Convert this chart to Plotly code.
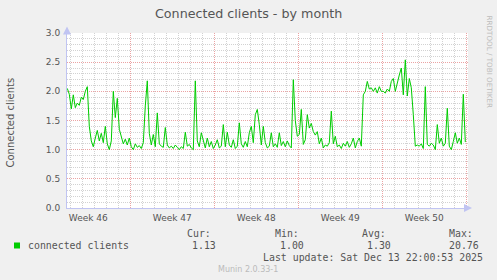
import plotly.graph_objects as go
import pandas as pd

# ---------------- data ----------------
title = "Connected clients - by month"
y_title = "Connected clients"
series_name = "connected clients"
sample_start = "2025-11-10 18:00"
sample_step = "4h"
clients = [
    2.05, 1.95, 1.70, 1.94, 1.72, 1.80, 1.76, 1.90, 1.86, 2.00,
    2.08, 1.40, 1.15, 1.05, 1.20, 1.33, 1.15, 1.28, 1.12, 1.40,
    1.10, 1.00, 1.15, 2.00, 1.55, 1.88, 1.35, 1.20, 1.10, 1.18,
    1.08, 1.20, 1.05, 1.00, 1.10, 1.04, 1.07, 1.02, 1.12, 1.75,
    2.18, 1.28, 1.08, 1.26, 1.05, 1.63, 1.10, 1.06, 1.04, 1.38,
    1.08, 1.03, 1.06, 1.02, 1.08, 1.04, 1.00, 1.05, 1.02, 1.30,
    1.06, 1.09, 1.03, 1.00, 2.18, 1.15, 1.05, 1.29, 1.18, 1.03,
    1.20, 1.05, 1.14, 1.02, 1.08, 1.17, 1.03, 1.06, 1.43, 1.05,
    1.30, 1.08, 1.04, 1.17, 1.02, 1.06, 1.46, 1.10, 1.04, 1.14,
    1.05, 1.29, 1.40, 1.12, 1.60, 1.69, 1.43, 1.08, 1.40, 1.12,
    1.03, 1.06, 1.29, 1.05, 1.10, 1.04, 1.29, 1.07, 1.14, 1.05,
    1.15, 1.07, 1.03, 2.20, 1.50, 1.23, 1.26, 1.69, 1.09, 1.17,
    1.60, 1.37, 1.45, 1.31, 1.25, 1.31, 1.10, 1.20, 1.03, 1.08,
    1.06, 1.12, 1.66, 1.10, 1.23, 1.05, 1.08, 1.02, 1.11, 1.06,
    1.14, 1.04, 1.10, 1.20, 1.03, 1.14, 1.20, 1.06, 1.94, 2.00,
    2.17, 2.04, 2.06, 2.00, 2.06, 1.97, 2.08, 2.00, 2.00, 1.97,
    2.04, 2.00, 2.17, 2.22, 2.00, 2.17, 2.28, 2.40, 1.94, 2.54,
    1.92, 2.22, 2.06, 1.60, 1.06, 1.08, 1.06, 1.10, 1.02, 2.08,
    1.09, 1.06, 1.11, 1.08, 1.00, 1.43, 1.11, 1.20, 1.06, 1.11,
    1.71, 1.06, 1.00, 1.14, 1.29, 1.11, 1.20, 1.09, 1.95, 1.13,
]
week_labels = ["Week 46", "Week 47", "Week 48", "Week 49", "Week 50"]
week_label_times = ["2025-11-12 12:00", "2025-11-19 12:00", "2025-11-26 12:00",
                    "2025-12-03 12:00", "2025-12-10 12:00"]
week_grid_origin = "2025-11-16"
x_range = ["2025-11-10 17:24", "2025-12-14 03:24"]
y_range = [0, 3]
y_ticks = [0.0, 0.5, 1.0, 1.5, 2.0, 2.5, 3.0]
stat_names = ["Cur:", "Min:", "Avg:", "Max:"]
stat_values = ["1.13", "1.00", "1.30", "20.76"]
last_update = "Last update: Sat Dec 13 22:00:53 2025"
footer = "Munin 2.0.33-1"
watermark = "RRDTOOL / TOBI OETIKER"

# ---------------- style ----------------
W, H = 497, 280
L, R, T, B = 67, 29, 33, 72
PW, PH = W - L - R, H - T - B
BG = "#F0F0F0"
TXT = "#555555"
GREEN = "#00CC00"
MINOR = "#D2D2D2"
MAJOR = "#EBA3A3"
AXIS = "#C0C4F2"
SANS = "DejaVu Sans"
MONO = "DejaVu Sans Mono"
DAY_MS = 86400000


def px_x(px):
    return (px - L) / PW


def px_y(py):
    return (T + PH - py) / PH


times = pd.date_range(sample_start, periods=len(clients), freq=sample_step)

fig = go.Figure()
fig.add_trace(go.Scatter(x=times, y=clients, mode="lines",
                         line=dict(color=GREEN, width=1),
                         name=series_name, showlegend=False, hoverinfo="skip"))
fig.add_trace(go.Scatter(x=[times[0]], y=[None], xaxis="x2", yaxis="y",
                         mode="lines", showlegend=False, hoverinfo="skip"))

fig.update_layout(
    width=W, height=H,
    margin=dict(l=L, r=R, t=T, b=B, pad=0),
    paper_bgcolor=BG, plot_bgcolor="#FFFFFF",
    showlegend=False,
    xaxis=dict(type="date", range=x_range, showgrid=False,
               tickmode="array", tickvals=week_label_times, ticktext=week_labels,
               tickfont=dict(family=SANS, size=9, color=TXT), ticks="",
               ticklabelstandoff=1,
               showline=True, linecolor=AXIS, linewidth=1, zeroline=False,
               minor=dict(tick0=week_grid_origin, dtick=DAY_MS, showgrid=True,
                          gridcolor=MINOR, griddash="1px,1px", gridwidth=1, ticks=""),
               fixedrange=True),
    xaxis2=dict(type="date", range=x_range, overlaying="x", anchor="y",
                tick0=week_grid_origin, dtick=7 * DAY_MS,
                showgrid=True, gridcolor=MAJOR, griddash="1px,1px", gridwidth=1,
                showticklabels=False, ticks="", showline=False, zeroline=False,
                fixedrange=True),
    yaxis=dict(range=y_range, tickmode="array", tickvals=y_ticks, tickformat=".1f",
               tickfont=dict(family=SANS, size=9, color=TXT), ticks="",
               ticklabelstandoff=4,
               showgrid=True, gridcolor=MAJOR, griddash="1px,1px", gridwidth=1,
               minor=dict(dtick=0.1, tick0=0, showgrid=True, gridcolor=MINOR,
                          griddash="1px,1px", gridwidth=1, ticks=""),
               showline=True, linecolor=AXIS, linewidth=1, zeroline=False,
               fixedrange=True),
)

ann = []
# title
ann.append(dict(text=title, x=px_x(248), y=px_y(13.3), xref="paper", yref="paper",
                xanchor="center", yanchor="middle", showarrow=False,
                font=dict(family=SANS, size=12.7, color=TXT)))
# y title
ann.append(dict(text=y_title, x=px_x(10.5), y=px_y(123), xref="paper", yref="paper",
                xanchor="center", yanchor="middle", showarrow=False, textangle=-90,
                font=dict(family=SANS, size=10, color=TXT)))
# watermark
ann.append(dict(text=watermark, x=px_x(489), y=px_y(61.5), xref="paper", yref="paper",
                xanchor="center", yanchor="middle", showarrow=False, textangle=90,
                font=dict(family=SANS, size=7.2, color="#BDBDBD")))
# axis arrows
ann.append(dict(text="", x=0, y=px_y(26.5), xref="paper", yref="paper",
                ax=0, ay=7, showarrow=True, arrowhead=2, arrowsize=1.6,
                arrowwidth=1, arrowcolor=AXIS))
ann.append(dict(text="", x=px_x(472), y=0, xref="paper", yref="paper",
                ax=-6, ay=0, showarrow=True, arrowhead=2, arrowsize=1.6,
                arrowwidth=1, arrowcolor=AXIS))
# legend
ann.append(dict(text=series_name, x=px_x(25.7), y=px_y(245.7), xref="paper", yref="paper",
                xanchor="left", yanchor="middle", showarrow=False,
                font=dict(family=MONO, size=9.9, color=TXT)))
head_x = [185.7, 274, 361, 447.7]
val_x = [191, 279, 366, 447.7]
for name, hx in zip(stat_names, head_x):
    ann.append(dict(text=name, x=px_x(hx - 1), y=px_y(233.3), xref="paper", yref="paper",
                    xanchor="left", yanchor="middle", showarrow=False,
                    font=dict(family=MONO, size=9.9, color=TXT)))
for val, vx in zip(stat_values, val_x):
    ann.append(dict(text=val, x=px_x(vx - 1), y=px_y(245.7), xref="paper", yref="paper",
                    xanchor="left", yanchor="middle", showarrow=False,
                    font=dict(family=MONO, size=9.9, color=TXT)))
ann.append(dict(text=last_update, x=px_x(260.7), y=px_y(257.7), xref="paper", yref="paper",
                xanchor="left", yanchor="middle", showarrow=False,
                font=dict(family=MONO, size=9.9, color=TXT)))
ann.append(dict(text=footer, x=px_x(248.3), y=px_y(269), xref="paper", yref="paper",
                xanchor="center", yanchor="middle", showarrow=False,
                font=dict(family=SANS, size=8, color="#BBBBBB")))
fig.update_layout(annotations=ann)

fig.add_shape(type="rect", xref="paper", yref="paper",
              x0=px_x(14), x1=px_x(20), y0=px_y(248.5), y1=px_y(242.5),
              fillcolor=GREEN, line=dict(width=0))

fig.write_html("out.html")
